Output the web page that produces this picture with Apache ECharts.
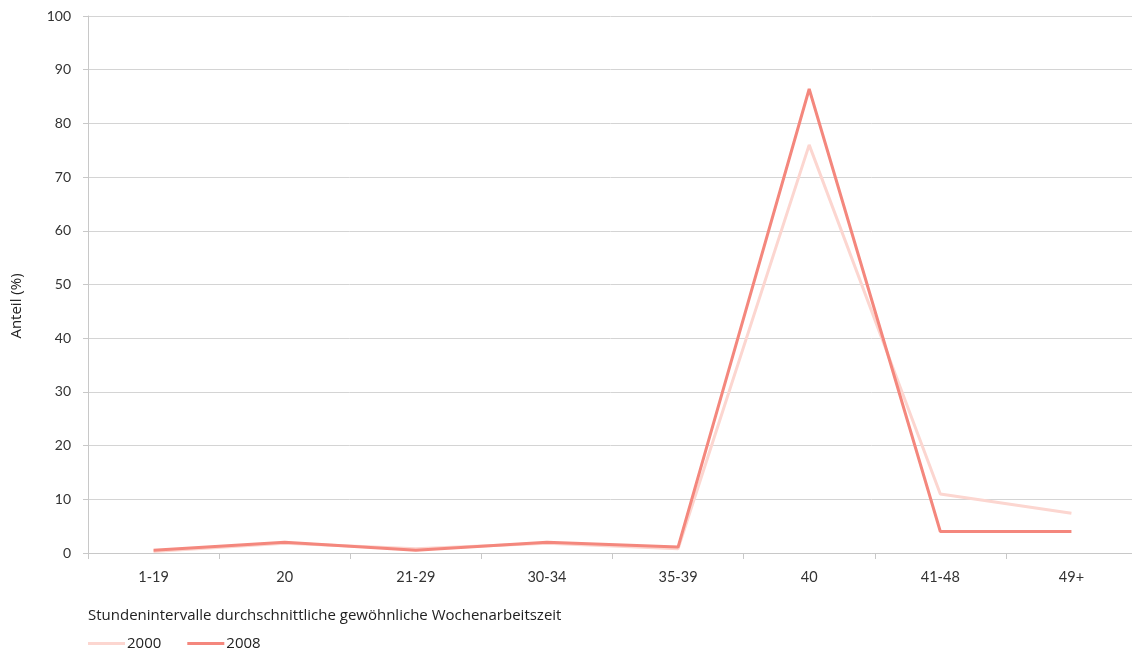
<!DOCTYPE html>
<html><head><meta charset="utf-8">
<script src="https://cdn.jsdelivr.net/npm/echarts@6/dist/echarts.min.js"></script>
<style>html,body{margin:0;padding:0;background:#fff}#c{width:1132px;height:654px}</style>
</head><body><div id="c"></div>
<script>
const categories = ['1-19','20','21-29','30-34','35-39','40','41-48','49+'];
const s2000 = [0.3, 1.8, 0.8, 1.8, 0.8, 76.0, 11.0, 7.4];
const s2008 = [0.5, 2.0, 0.5, 2.0, 1.1, 86.4, 4.0, 4.0];
const yTicks = [0,10,20,30,40,50,60,70,80,90,100];

const font = 'Lato, "Open Sans", sans-serif';
const nameFont = '"Open Sans", Lato, sans-serif';
const chart = echarts.init(document.getElementById('c'));
chart.setOption({
  animation: false,
  textStyle: {fontFamily: font},
  grid: {left: 88, width: 1049, top: 16, bottom: 101, containLabel: false, outerBoundsMode: 'none'},
  legend: {
    left: 88, top: 636, padding: 0, itemGap: 26, itemWidth: 37, itemHeight: 3, icon: 'rect',
    textStyle: {fontSize: 15, color: '#222', fontFamily: nameFont, padding: [0,0,0,-3]},
    data: ['2000','2008']
  },
  graphic: [{
    type: 'text', x: 9, y: 306, rotation: Math.PI / 2,
    style: {text: 'Anteil (%)', fontSize: 15, fontFamily: nameFont, fill: '#222',
            align: 'center', verticalAlign: 'top'}
  }],
  xAxis: {
    type: 'category', data: categories, boundaryGap: true,
    name: 'Stundenintervalle durchschnittliche gewöhnliche Wochenarbeitszeit',
    nameLocation: 'start', nameGap: 0,
    nameTextStyle: {fontSize: 15, color: '#222', fontFamily: nameFont, align: 'left', verticalAlign: 'top', padding: [55,0,0,0]},
    axisLine: {lineStyle: {color: '#c8c8c8'}},
    axisTick: {show: true, length: 6, lineStyle: {color: '#c8c8c8'}},
    axisLabel: {fontSize: 14.5, color: '#333', margin: 17}
  },
  yAxis: {
    type: 'value', min: 0, max: 100, interval: 10,
    axisLine: {show: true, lineStyle: {color: '#c8c8c8'}},
    axisTick: {show: true, length: 5, lineStyle: {color: '#c8c8c8'}},
    axisLabel: {fontSize: 14, color: '#333', margin: 17,
      formatter: v => yTicks.includes(v) ? String(v) : ''},
    splitLine: {lineStyle: {color: '#d4d4d4'}}
  },
  series: [
    {name: '2000', type: 'line', data: s2000, symbol: 'none',
     lineStyle: {width: 3, color: '#fcd6d0'}, itemStyle: {color: '#fcd6d0'}},
    {name: '2008', type: 'line', data: s2008, symbol: 'none',
     lineStyle: {width: 3, color: '#f4877d'}, itemStyle: {color: '#f4877d'}}
  ]
});
</script></body></html>
